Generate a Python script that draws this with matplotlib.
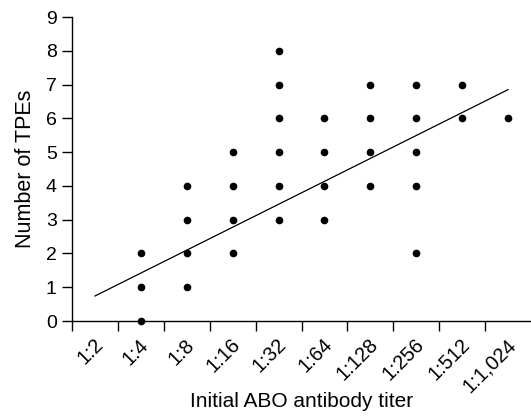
import matplotlib.pyplot as plt
import matplotlib.transforms as mtransforms
import numpy as np

plt.rcParams["font.family"] = ["Liberation Sans", "DejaVu Sans"]

# Titer categories (x axis)
titers = ["1:2", "1:4", "1:8", "1:16", "1:32", "1:64", "1:128", "1:256", "1:512", "1:1,024"]

# Number of TPEs observed for each titer category
tpes = {
    "1:4": [0, 1, 2],
    "1:8": [1, 2, 3, 4],
    "1:16": [2, 3, 4, 5],
    "1:32": [3, 4, 5, 6, 7, 8],
    "1:64": [3, 4, 5, 6],
    "1:128": [4, 5, 6, 7],
    "1:256": [2, 4, 5, 6, 7],
    "1:512": [6, 7],
    "1:1,024": [6],
}

# Trend line endpoints as drawn (category, value)
fit_cats = ["1:2", "1:1,024"]
fit_vals = [0.74, 6.85]

fig = plt.figure(figsize=(5.31, 4.16), dpi=100)
ax = fig.add_axes([72 / 531, (416 - 321) / 416, 1 - 72 / 531, (321 - 17) / 416])

pos = {t: i for i, t in enumerate(titers)}
for t, vals in tpes.items():
    ax.plot([pos[t]] * len(vals), vals, "o", color="black", markersize=4.5, clip_on=False)

ax.plot([pos[c] for c in fit_cats], fit_vals, "-", color="black", linewidth=0.9)

ax.set_xlim(-0.5, 9.5)
ax.set_ylim(0, 9)
ax.set_yticks(range(0, 10))

# boundaries get tick marks, category centres get labels
ax.set_xticks(np.arange(-0.5, 9.0, 1.0))
ax.set_xticklabels([])
ax.set_xticks(range(len(titers)), minor=True)
ax.set_xticklabels(titers, minor=True, rotation=45, ha="right", va="center",
                   rotation_mode="anchor", fontsize=14.5)
ax.tick_params(axis="x", which="minor", length=0, pad=15)
ax.tick_params(axis="x", which="major", length=7, width=1)
ax.tick_params(axis="y", length=7, width=1, labelsize=14, pad=4)

shift = mtransforms.ScaledTranslation(5 / 100, 0, fig.dpi_scale_trans)
for lab in ax.get_xticklabels(minor=True):
    lab.set_transform(lab.get_transform() + shift)

ax.spines["top"].set_visible(False)
ax.spines["right"].set_visible(False)
for s in ["left", "bottom"]:
    ax.spines[s].set_linewidth(1)

ax.set_xlabel("Initial ABO antibody titer", fontsize=15)
ax.xaxis.set_label_coords(0.5, -0.235)
ax.set_ylabel("Number of TPEs", fontsize=15.5, labelpad=7)

fig.savefig("out.png", dpi=100)
